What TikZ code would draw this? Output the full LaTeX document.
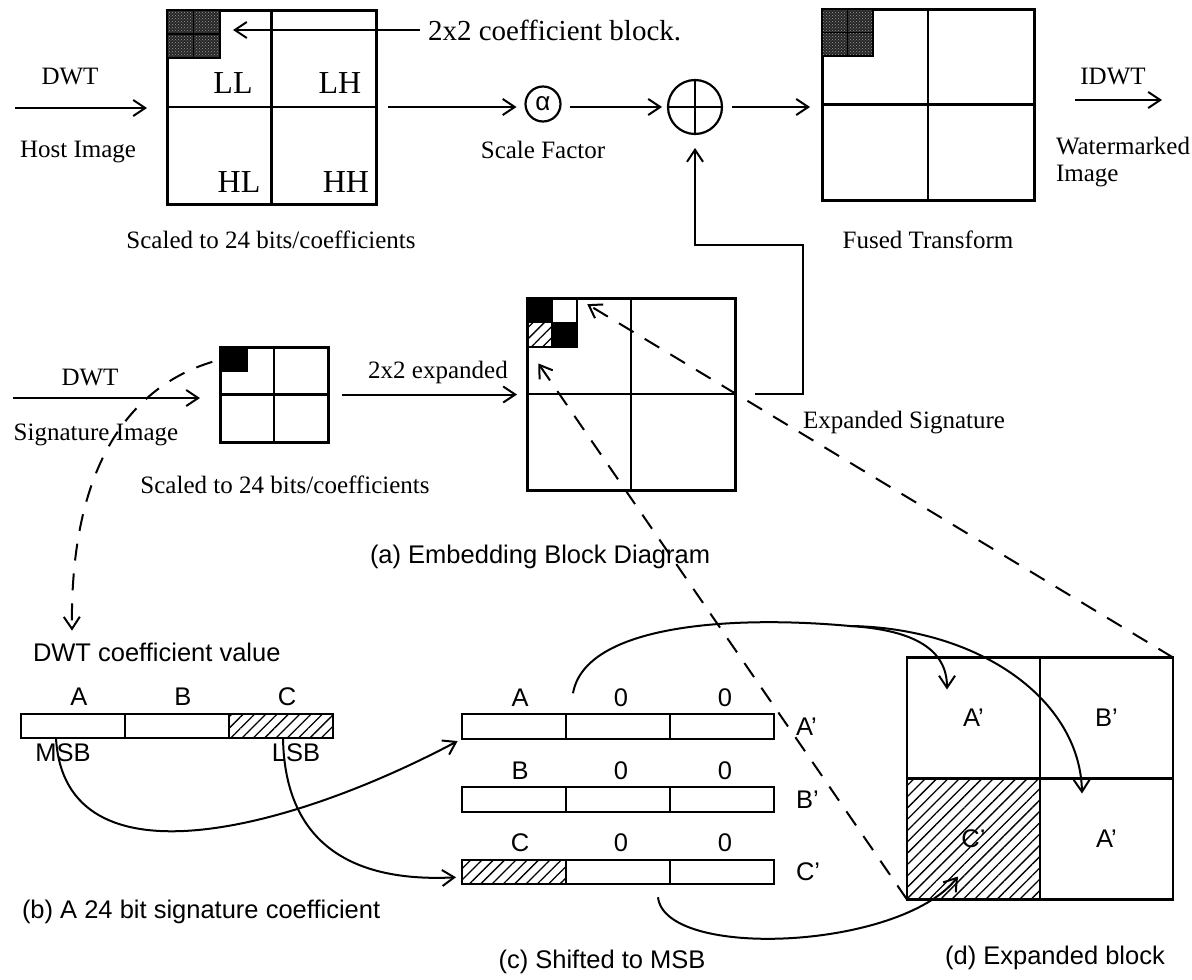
\documentclass[tikz,border=0pt]{standalone}
\usepackage{fontspec}
\setmainfont{Liberation Serif}
\setsansfont{Liberation Sans}
\usetikzlibrary{arrows.meta,positioning,calc,patterns,patterns.meta}

\begin{document}
\begin{tikzpicture}[
    x=1pt, y=-1pt,
    every node/.style={inner sep=0pt, outer sep=0pt},
    tlbl/.style={font=\fontsize{25}{28}\selectfont},
    bandlbl/.style={font=\fontsize{32}{34}\selectfont},
    slbl/.style={font=\sffamily\fontsize{25.5}{30}\selectfont},
    quad/.style={draw, line width=3pt},
    split/.style={line width=2.4pt},
    cell/.style={draw, line width=2pt, minimum width=104pt, minimum height=24.5pt},
    dcell/.style={draw, line width=2.2pt, minimum width=133pt, minimum height=121pt, slbl},
    ecell/.style={draw, line width=1.6pt, minimum width=25pt, minimum height=24.5pt},
    noisecell/.style={draw, line width=1.6pt, preaction={fill=black!85}, pattern=crosshatch dots,
        pattern color=white!60!black, minimum width=26.5pt, minimum height=24pt},
    hatched/.style={pattern={Lines[angle=45,distance=8pt,line width=1.3pt]}},
    arrow/.style={-{Straight Barb[length=12pt,width=16pt,line width=2pt]}, line width=2pt},
    dasharrow/.style={arrow, dash pattern=on 17pt off 13pt}
]
\useasboundingbox (0,0) rectangle (1192,980);

% Host image transform
\node[quad, minimum width=209pt, minimum height=194pt] (host) at (271.5,107) {};
\draw[split] (host.north) -- (host.south);
\draw[split] (host.west) -- (host.east);
\node[noisecell, anchor=north west] (hc1) at (host.north west) {};
\node[noisecell, right=0pt of hc1] (hc2) {};
\node[noisecell, below=0pt of hc1] (hc3) {};
\node[noisecell, right=0pt of hc3] (hc4) {};
\node[bandlbl] (ll) at (233,83) {LL};
\node[bandlbl] (lh) at (340,83) {LH};
\node[bandlbl] (hl) at (239,182) {HL};
\node[bandlbl] (hh) at (346,182) {HH};

\coordinate (hostin) at (15,108);
\node[tlbl] (dwta) at (70,77) {DWT};
\node[tlbl] (hostlbl) at (78,152) {Host Image};
\node[tlbl] (scalea) at (271,240) {Scaled to 24 bits/coefficients};
\draw[arrow, shorten >=20pt] (hostin) -- (hostin -| host.west);

% Coefficient block note
\node[tlbl, font=\fontsize{29}{32}\selectfont, anchor=west] (cbnote) at (428,30) {2x2 coefficient block.};
\draw[arrow, shorten <=8pt, shorten >=13pt] (cbnote.west) -- (cbnote.west -| hc2.east);

% Scale and sum
\node[draw, circle, line width=2.2pt, minimum size=35pt, font=\sffamily\fontsize{26}{26}\selectfont] (alpha) at (543,104) {α};
\node[tlbl, below=20pt of alpha] (sf) {Scale Factor};
\node[draw, circle, line width=2.2pt, minimum size=54pt] (plus) at (695,107) {};
\draw[split] (plus.north) -- (plus.south);
\draw[split] (plus.west) -- (plus.east);

% Fused transform
\node[quad, minimum width=212pt, minimum height=191pt] (fused) at (928,104.5) {};
\draw[split] (fused.north) -- (fused.south);
\draw[split] (fused.west) -- (fused.east);
\node[noisecell, minimum width=25.5pt, minimum height=23.5pt, anchor=north west] (fc1) at (fused.north west) {};
\node[noisecell, minimum width=25.5pt, minimum height=23.5pt, right=0pt of fc1] (fc2) {};
\node[noisecell, minimum width=25.5pt, minimum height=23.5pt, below=0pt of fc1] (fc3) {};
\node[noisecell, minimum width=25.5pt, minimum height=23.5pt, right=0pt of fc3] (fc4) {};
\node[tlbl] (ft) at (928,240) {Fused Transform};

\node[tlbl] (idwt) at (1113,77) {IDWT};
\coordinate (outa) at (1075,100);
\coordinate (outb) at (1162,100);
\node[tlbl, font=\fontsize{25}{27}\selectfont, align=left, anchor=west] (wm) at (1056,162) {Watermarked\\Image};

\draw[arrow, shorten <=12pt, shorten >=9pt] (host.east) -- (host.east -| alpha.west);
\draw[arrow, shorten <=9pt, shorten >=6pt] (alpha.east |- plus.west) -- (plus.west);
\draw[arrow, shorten <=10pt, shorten >=12pt] (plus.east) -- (plus.east -| fused.west);
\draw[arrow] (outa) -- (outb);

% Signature image transform
\node[quad, minimum width=108pt, minimum height=95pt] (sig) at (274,394.5) {};
\draw[split] (sig.north) -- (sig.south);
\draw[split] (sig.west) -- (sig.east);
\node[fill=black, minimum width=28pt, minimum height=25pt, anchor=north west] (sigcell) at (sig.north west) {};
\coordinate (sigin) at (13,398);
\node[tlbl] (dwtb) at (90,377) {DWT};
\node[tlbl] (siglbl) at (96,435) {Signature Image};
\node[tlbl] (scaleb) at (285,485) {Scaled to 24 bits/coefficients};
\draw[arrow, shorten >=20pt] (sigin) -- (sigin -| sig.west);

% Expanded signature
\node[quad, minimum width=208pt, minimum height=192pt] (exps) at (631,394) {};
\draw[split] (exps.north) -- (exps.south);
\draw[split] (exps.west) -- (exps.east);
\node[ecell, fill=black, anchor=north west] (e11) at (exps.north west) {};
\node[ecell, right=0pt of e11] (e12) {};
\node[ecell, hatched, below=0pt of e11] (e21) {};
\node[ecell, fill=black, right=0pt of e21] (e22) {};
\node[tlbl] (xlbl) at (438,372) {2x2 expanded};
\node[tlbl, anchor=west] (esig) at (803,423) {Expanded Signature};
\coordinate (bend) at (803,245);
\draw[arrow, shorten <=14pt, shorten >=10pt] (sig.east) -- (sig.east -| exps.west);
\draw[arrow, shorten <=20pt, shorten >=14pt] (exps.east) -| (bend) -| (plus.south);

\node[slbl, anchor=west] (capa) at (370,557) {(a) Embedding Block Diagram};

% (b) signature coefficient
\node[slbl, anchor=west] (dcv) at (33,652) {DWT coefficient value};
\node[cell, anchor=west] (s1) at (21,726) {};
\node[cell, right=0pt of s1] (s2) {};
\node[cell, hatched, right=0pt of s2] (s3) {};
\node[slbl, above=8pt of s1, xshift=6pt] (sa) {A};
\node[slbl, above=8pt of s2, xshift=6pt] (sb) {B};
\node[slbl, above=8pt of s3, xshift=6pt] (sc) {C};
\node[slbl] (msb) at (63,753) {MSB};
\node[slbl] (lsb) at (296,753) {LSB};
\draw[dasharrow, shorten <=8pt] (sigcell.west) .. controls (120,390) and (70,480) .. ($(dcv.north west)+(39,-12)$);

% (c) shifted rows
\node[cell, anchor=west] (ra1) at (462,726.5) {};
\node[cell, right=0pt of ra1] (ra2) {};
\node[cell, right=0pt of ra2] (ra3) {};
\node[cell, anchor=west] (rb1) at (462,799.5) {};
\node[cell, right=0pt of rb1] (rb2) {};
\node[cell, right=0pt of rb2] (rb3) {};
\node[cell, hatched, anchor=west] (rc1) at (462,872) {};
\node[cell, right=0pt of rc1] (rc2) {};
\node[cell, right=0pt of rc2] (rc3) {};
\node[slbl, above=8pt of ra1, xshift=6pt] (ta1) {A};
\node[slbl, above=8pt of ra2, xshift=3pt] (ta2) {0};
\node[slbl, above=8pt of ra3, xshift=3pt] (ta3) {0};
\node[slbl, above=8pt of rb1, xshift=6pt] (tb1) {B};
\node[slbl, above=8pt of rb2, xshift=3pt] (tb2) {0};
\node[slbl, above=8pt of rb3, xshift=3pt] (tb3) {0};
\node[slbl, above=8pt of rc1, xshift=6pt] (tc1) {C};
\node[slbl, above=8pt of rc2, xshift=3pt] (tc2) {0};
\node[slbl, above=8pt of rc3, xshift=3pt] (tc3) {0};
\node[slbl, right=22pt of ra3] (apr) {A’};
\node[slbl, right=22pt of rb3] (bpr) {B’};
\node[slbl, right=22pt of rc3] (cpr) {C’};

% (d) expanded block
\node[dcell] (d11) at (973.5,718) {A’};
\node[dcell, right=0pt of d11] (d12) {B’};
\node[dcell, hatched, below=0pt of d11] (d21) {C’};
\node[dcell, right=0pt of d21] (d22) {A’};

% Bit moves
\draw[arrow, shorten >=5pt] ($(s1.south west)+(35,0)$) .. controls (65,890) and (290,830) .. (ra1.south west);
\draw[arrow, shorten >=6pt] ($(s3.south west)+(54,0)$) .. controls (285,850) and (360,882) .. ($(rc1.west)+(0,5)$);
\coordinate (split) at (850,626);
\draw[line width=2pt] ($(ra2.north west)+(7,-21)$) .. controls (585,625) and (730,615) .. (split);
\draw[arrow] (split) .. controls (915,630) and (947,650) .. ($(d11.north west)+(40,32)$);
\draw[arrow] (split) .. controls (980,628) and (1080,700) .. ($(d22.north west)+(42,15)$);
\draw[arrow] ($(rc3.south west)+(-12,13)$) .. controls (665,960) and (900,950) .. ($(d21.south west)+(51,-23)$);

% Dashed links
\draw[dasharrow, shorten >=12pt] (d12.north east) -- (e12.north east);
\draw[dasharrow, shorten >=20pt] (d21.south west) -- (e21.south west);

% Captions
\node[slbl, anchor=west] (capb) at (22,912) {(b) A 24 bit signature coefficient};
\node[slbl] (capc) at (602,962) {(c) Shifted to MSB};
\node[slbl] (capd) at (1055,958) {(d) Expanded block};

\end{tikzpicture}
\end{document}
